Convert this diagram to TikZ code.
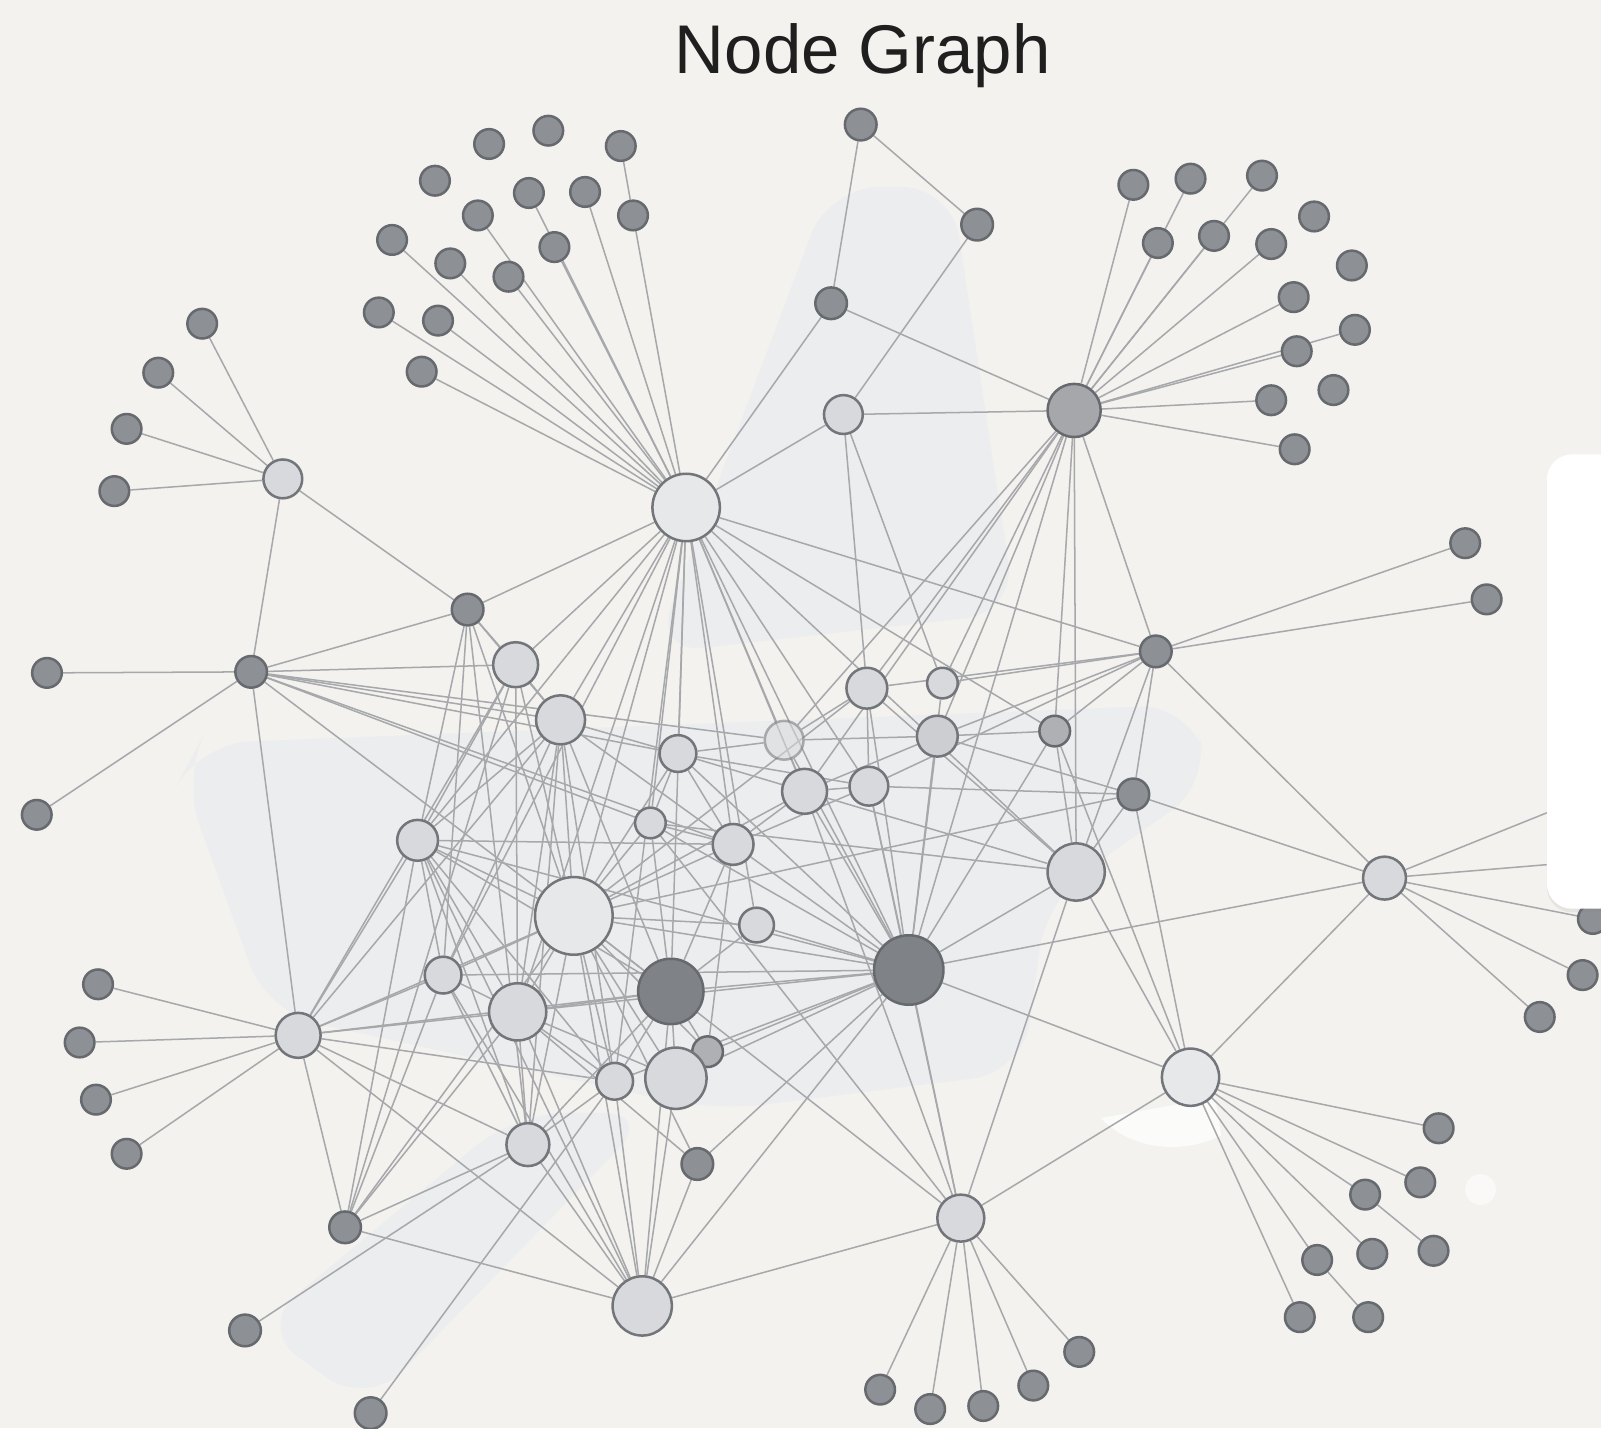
\documentclass[tikz,border=0pt]{standalone}
\usepackage{fontspec}
\setmainfont{Liberation Sans}
\usetikzlibrary{shadows}

\definecolor{paper}{HTML}{F3F2EE}
\definecolor{leaffill}{HTML}{8D9094}
\definecolor{leafline}{HTML}{666A6E}
\definecolor{litefill}{HTML}{D8D9DC}
\definecolor{liteline}{HTML}{72757A}
\definecolor{palefill}{HTML}{E7E8EA}
\definecolor{darkfill}{HTML}{7F8286}
\definecolor{greyfill}{HTML}{AEB0B3}
\definecolor{edgecol}{HTML}{A6A8AB}
\definecolor{panelcol}{HTML}{EAECEF}

\pgfdeclarelayer{panels}
\pgfdeclarelayer{edges}
\pgfsetlayers{panels,edges,main}

\tikzset{
  dot/.style={circle, inner sep=0pt, line width=0.7pt},
  leaf/.style={dot, fill=leaffill, draw=leafline, minimum size=2.9mm},
  lite/.style={dot, fill=litefill, draw=liteline},
  pale/.style={dot, fill=palefill, draw=liteline},
  heavy/.style={dot, fill=darkfill, draw=leafline},
  link/.style={draw=edgecol, line width=0.42pt},
  panel/.style={fill=panelcol, opacity=0.75, rounded corners=14pt},
}

\begin{document}
\begin{tikzpicture}[x=0.01cm, y=-0.01cm]
  \useasboundingbox (0,0) rectangle (1568,1399);

  % Titulo
  \node[anchor=base, text=black!88, font=\fontsize{19.2}{23}\selectfont] (title) at (845,72) {Node Graph};

  % Hubs
  \node[pale, minimum size=6.6mm] (hA) at (672,497) {};
  \node[heavy, fill=greyfill!80!darkfill, minimum size=5.2mm] (hB) at (1052,402) {};
  \node[lite, minimum size=3.8mm] (hC) at (277,469) {};
  \node[heavy, minimum size=6.8mm] (hD) at (890,950) {};
  \node[pale, minimum size=7.6mm] (hE) at (562,897) {};
  \node[heavy, minimum size=6.4mm] (hF) at (657,971) {};
  \node[lite, minimum size=4.4mm] (hG) at (292,1014) {};
  \node[pale, minimum size=5.6mm] (hH) at (1166,1055) {};
  \node[lite, minimum size=4.6mm] (hI) at (941,1193) {};
  \node[lite, minimum size=5.8mm] (hJ) at (629,1279) {};
  \node[lite, minimum size=4.2mm] (hK) at (1356,860) {};
  \node[lite, minimum size=5.6mm] (hL) at (1054,854) {};

  % Nodos intermedios oscuros
  \foreach \n/\x/\y in {m1/843/122, m2/957/220, m3/814/297, m5/458/597, m6/246/658,
      m7/1132/638, m8/1110/778, m29/683/1140, m30/338/1202, m31/240/1303, m32/363/1384}
    \node[leaf, minimum size=3.1mm] (\n) at (\x,\y) {};
  \node[leaf, fill=greyfill, minimum size=3mm] (m9) at (1033,716) {};
  \node[leaf, fill=greyfill, minimum size=3mm] (m25) at (693,1030) {};

  % Nodos intermedios claros
  \foreach \n/\x/\y/\d in {m4/826/406/3.8, m10/923/669/3.0, m11/849/674/4.0, m14/664/738/3.6,
      m15/549/705/4.8, m16/505/651/4.4, m17/409/823/4.0, m18/637/806/3.0, m19/718/827/4.0,
      m20/788/775/4.4, m21/851/770/3.8, m22/741/906/3.4, m23/434/955/3.6, m24/507/991/5.6,
      m26/602/1059/3.6, m27/662/1056/6.0, m28/517/1121/4.2}
    \node[lite, minimum size=\d mm] (\n) at (\x,\y) {};
  \node[lite, fill=litefill!85!leaffill, minimum size=4mm] (m12) at (918,721) {};
  \node[lite, opacity=0.55, minimum size=3.8mm] (m13) at (768,725) {};

  % Hojas
  \foreach \n/\x/\y in {ta1/479/141, ta2/537/128, ta3/608/143, ta4/426/177, ta5/518/189,
      ta6/573/188, ta7/468/211, ta8/620/211, ta9/384/235, ta10/441/258, ta11/543/242,
      ta12/498/271, ta13/371/306, ta14/429/314, ta15/413/364,
      tb1/1110/181, tb2/1166/175, tb3/1236/172, tb4/1287/212, tb5/1134/238, tb6/1189/231,
      tb7/1245/239, tb8/1324/260, tb9/1267/291, tb10/1327/323, tb11/1270/344, tb12/1306/382,
      tb13/1245/392, tb14/1268/440,
      c1/198/317, c2/155/365, c3/124/420, c4/112/481, l1/46/659, l2/36/798,
      r1/1435/532, r2/1456/587, k1/1560/900, k2/1550/955, k3/1508/996,
      g1/96/964, g2/78/1021, g3/94/1077, g4/124/1130,
      i1/862/1361, i2/911/1380, i3/963/1377, i4/1012/1357, i5/1057/1324,
      h1/1409/1105, h2/1391/1158, h3/1337/1170, h4/1404/1225, h5/1344/1228,
      h6/1290/1234, h7/1273/1290, h8/1340/1290}
    \node[leaf] (\n) at (\x,\y) {};

  % Extremos bajo la tarjeta
  \coordinate (ke1) at (1525,792);
  \coordinate (ke2) at (1525,846);

  % Fondo y paneles claros
  \begin{pgfonlayer}{panels}
    \fill[paper] (0,0) rectangle (1568,1399);
    \fill[panel] (812,183) -- (932,183) -- (995,600) -- (640,640) -- cycle;
    \fill[panel] (195,728) -- (1165,690) -- (1188,765) -- (1025,880) -- (1002,1050)
      -- (700,1088) -- (262,992) -- (178,760) -- cycle;
    \fill[panel] (252,1300) -- (505,1090) -- (640,1090) -- (360,1378) -- cycle;
    \fill[white, opacity=0.7] (1078,1095) .. controls (1110,1128) and (1160,1130) .. (1196,1112) -- (1190,1075) -- cycle;
    \fill[white, opacity=0.6] (1450,1165) circle (0.15cm);
  \end{pgfonlayer}

  % Aristas
  \begin{pgfonlayer}{edges}
    % racimos de hojas
    \foreach \a/\b in {hA/ta5, hA/ta6, hA/ta7, hA/ta8, hA/ta9, hA/ta10, hA/ta11, hA/ta12,
        hA/ta13, hA/ta14, hA/ta15, ta3/ta8,
        hB/tb1, hB/tb2, hB/tb3, hB/tb5, hB/tb6, hB/tb7, hB/tb9, hB/tb10, hB/tb11, hB/tb13, hB/tb14,
        hC/c1, hC/c2, hC/c3, hC/c4, m6/l1, m6/l2, m7/r1, m7/r2,
        hK/k1, hK/k2, hK/k3, hK/ke1, hK/ke2,
        hG/g1, hG/g2, hG/g3, hG/g4,
        hI/i1, hI/i2, hI/i3, hI/i4, hI/i5,
        hH/h1, hH/h2, hH/h3, hH/h5, hH/h6, hH/h7, h3/h4, h6/h8}
      \draw[link] (\a) -- (\b);
    % parte alta
    \foreach \a/\b in {m1/m3, m1/m2, m2/m4, m3/hA, m3/hB, m4/hA, m4/hB, m4/m11, m4/m10,
        hC/m6, hC/m5, m5/hA, m6/m5, m6/hG,
        hA/m16, hA/m15, hA/m14, hA/m13, hA/m17, hA/hE, hA/m18, hA/m19, hA/m20, hA/m21,
        hA/hD, hA/m9, hA/hL, hA/m7, hA/m24, hA/m23, hA/hF, hA/m26, hA/m22,
        hB/m9, hB/m11, hB/m12, hB/hD, hB/m20, hB/m7, hB/m13, hB/m10, hB/hL}
      \draw[link] (\a) -- (\b);
    % derecha
    \foreach \a/\b in {m7/hK, m7/m11, m7/m12, m7/m9, m7/m8, m7/hL, m7/m10, m7/m21,
        m8/hK, m8/hH, m8/hL, m8/m21, m8/hE, m8/m12,
        hK/hH, hK/hD, hL/hH, hL/hI, hL/hD, hL/m11, hL/m9, hL/m20, hL/m18,
        hH/hI, hH/m9, hH/hD, hI/hD, hI/hJ, hI/m21, hI/m20, hI/m18, hI/hE}
      \draw[link] (\a) -- (\b);
    % izquierda
    \foreach \a/\b in {m6/m16, m6/m15, m6/m14, m6/m18, m6/hE, m6/m19, m6/m13,
        m5/m16, m5/m17, m5/hE, m5/m23, m5/m15, m5/m28,
        hG/m17, hG/m23, hG/m16, hG/m15, hG/hE, hG/m24, hG/m30, hG/hJ, hG/m28, hG/m26, hG/hF,
        m30/m17, m30/m23, m30/m16, m30/hJ, m30/m28, m30/hE, m30/m24,
        m31/m28, m32/m26}
      \draw[link] (\a) -- (\b);
    % centro
    \foreach \a/\b in {hD/m11, hD/m10, hD/m12, hD/m21, hD/m20, hD/m19, hD/m13, hD/m9,
        hD/hJ, hD/m27, hD/m25, hD/m22, hD/hE, hD/m24, hD/hF, hD/m17, hD/m23, hD/m26,
        hD/m29, hD/m14, hD/m18,
        hE/m17, hE/m16, hE/m15, hE/m14, hE/m18, hE/m19, hE/m20, hE/m22, hE/hF, hE/m23,
        hE/m24, hE/m26, hE/m27, hE/m28, hE/hJ, hE/m29, hE/m25, hE/m11,
        hF/m19, hF/m15, hF/m24, hF/m26, hF/m27, hF/m28, hF/hJ, hF/m17, hF/m22, hF/m25, hF/m18,
        m17/m23, m17/m24, m17/m28, m17/m26, m17/m19, m17/m15,
        hJ/m28, hJ/m24, hJ/m23, hJ/m26, hJ/m27, hJ/m17, hJ/m29,
        m28/m24, m28/m23, m28/m15, m28/m26, m29/m24,
        m25/m27, m25/m19, m15/m16, m15/m14, m15/m24, m15/m23, m15/m19, m15/m26,
        m16/m17, m16/m24, m14/m13, m14/m20, m14/m19, m14/m21,
        m13/m20, m13/m12, m13/m11, m18/m19, m18/m14, m19/m20, m19/m21,
        m20/m12, m20/m21, m21/m11, m9/m12, m24/m23, m24/m26, m27/m24}
      \draw[link] (\a) -- (\b);
  \end{pgfonlayer}

  % Tarjeta blanca a la derecha
  \fill[white, rounded corners=7pt, drop shadow={shadow xshift=0pt, shadow yshift=-1pt, opacity=0.12}]
    (1515,445) rectangle (1590,890);
\end{tikzpicture}
\end{document}
